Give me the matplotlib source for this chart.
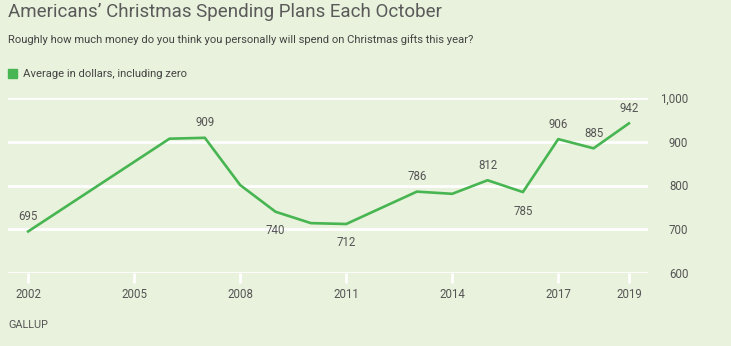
import matplotlib.pyplot as plt

# October averages (dollars, including zero)
years = [2002, 2006, 2007, 2008, 2009, 2010, 2011, 2013, 2014, 2015, 2016, 2017, 2018, 2019]
spend = [695, 907, 909, 801, 740, 714, 712, 786, 781, 812, 785, 906, 885, 942]
# which points carry a value label, and on which side
labeled = {2002: 'above', 2007: 'above', 2009: 'below', 2011: 'below', 2013: 'above',
           2015: 'above', 2016: 'below', 2017: 'above', 2018: 'above', 2019: 'above'}
xticks = [2002, 2005, 2008, 2011, 2014, 2017, 2019]
yticks = [600, 700, 800, 900, 1000]

bg = '#e9f2dc'
green = '#47b551'
txt = '#555555'
plt.rcParams['font.family'] = ['Roboto', 'DejaVu Sans']

fig = plt.figure(figsize=(7.31, 3.46), dpi=100, facecolor=bg)
ax = fig.add_axes([8 / 731, 1 - 273 / 346, 640 / 731, 175 / 346], facecolor=bg)

for y in yticks:
    ax.axhline(y, color='white', lw=2, zorder=1)
ax.plot(years, spend, color=green, lw=1.9, zorder=3)

for x, v in zip(years, spend):
    side = labeled.get(x)
    if side is None:
        continue
    off = 6 if side == 'above' else -9
    ax.annotate(str(v), (x, v), xytext=(0, off), textcoords='offset points',
                ha='center', va='bottom' if side == 'above' else 'top',
                fontsize=8.3, color=txt)

ax.set_xlim(2001.43, 2019.54)
ax.set_ylim(600, 1000)
for s in ax.spines.values():
    s.set_visible(False)
ax.set_xticks(xticks)
ax.set_xticklabels([str(x) for x in xticks], fontsize=8.3, color=txt)
ax.tick_params(axis='x', length=7, width=2, color='white', pad=4)
ax.yaxis.tick_right()
ax.set_yticks(yticks)
ax.set_yticklabels([f'{y:,}' for y in yticks], fontsize=8.3, color=txt)
ax.tick_params(axis='y', length=0, pad=29)
for lab in ax.get_yticklabels():
    lab.set_ha('right')

fig.text(8 / 731, 1 - 12 / 346, 'Americans\u2019 Christmas Spending Plans Each October',
         fontsize=13.5, color='#5a5a5a', va='center', ha='left')
fig.text(8 / 731, 1 - 40 / 346,
         'Roughly how much money do you think you personally will spend on Christmas gifts this year?',
         fontsize=8.1, color='#444444', va='center', ha='left')
fig.patches.append(plt.Rectangle((8 / 731, 1 - 78 / 346), 9 / 731, 9 / 346,
                                 transform=fig.transFigure, color=green, figure=fig))
fig.text(23 / 731, 1 - 74 / 346, 'Average in dollars, including zero',
         fontsize=8.1, color='#444444', va='center', ha='left')
fig.text(8 / 731, 1 - 325 / 346, 'GALLUP', fontsize=7.8, color=txt,
         va='center', ha='left')

fig.savefig('out.png', dpi=100, facecolor=bg)
